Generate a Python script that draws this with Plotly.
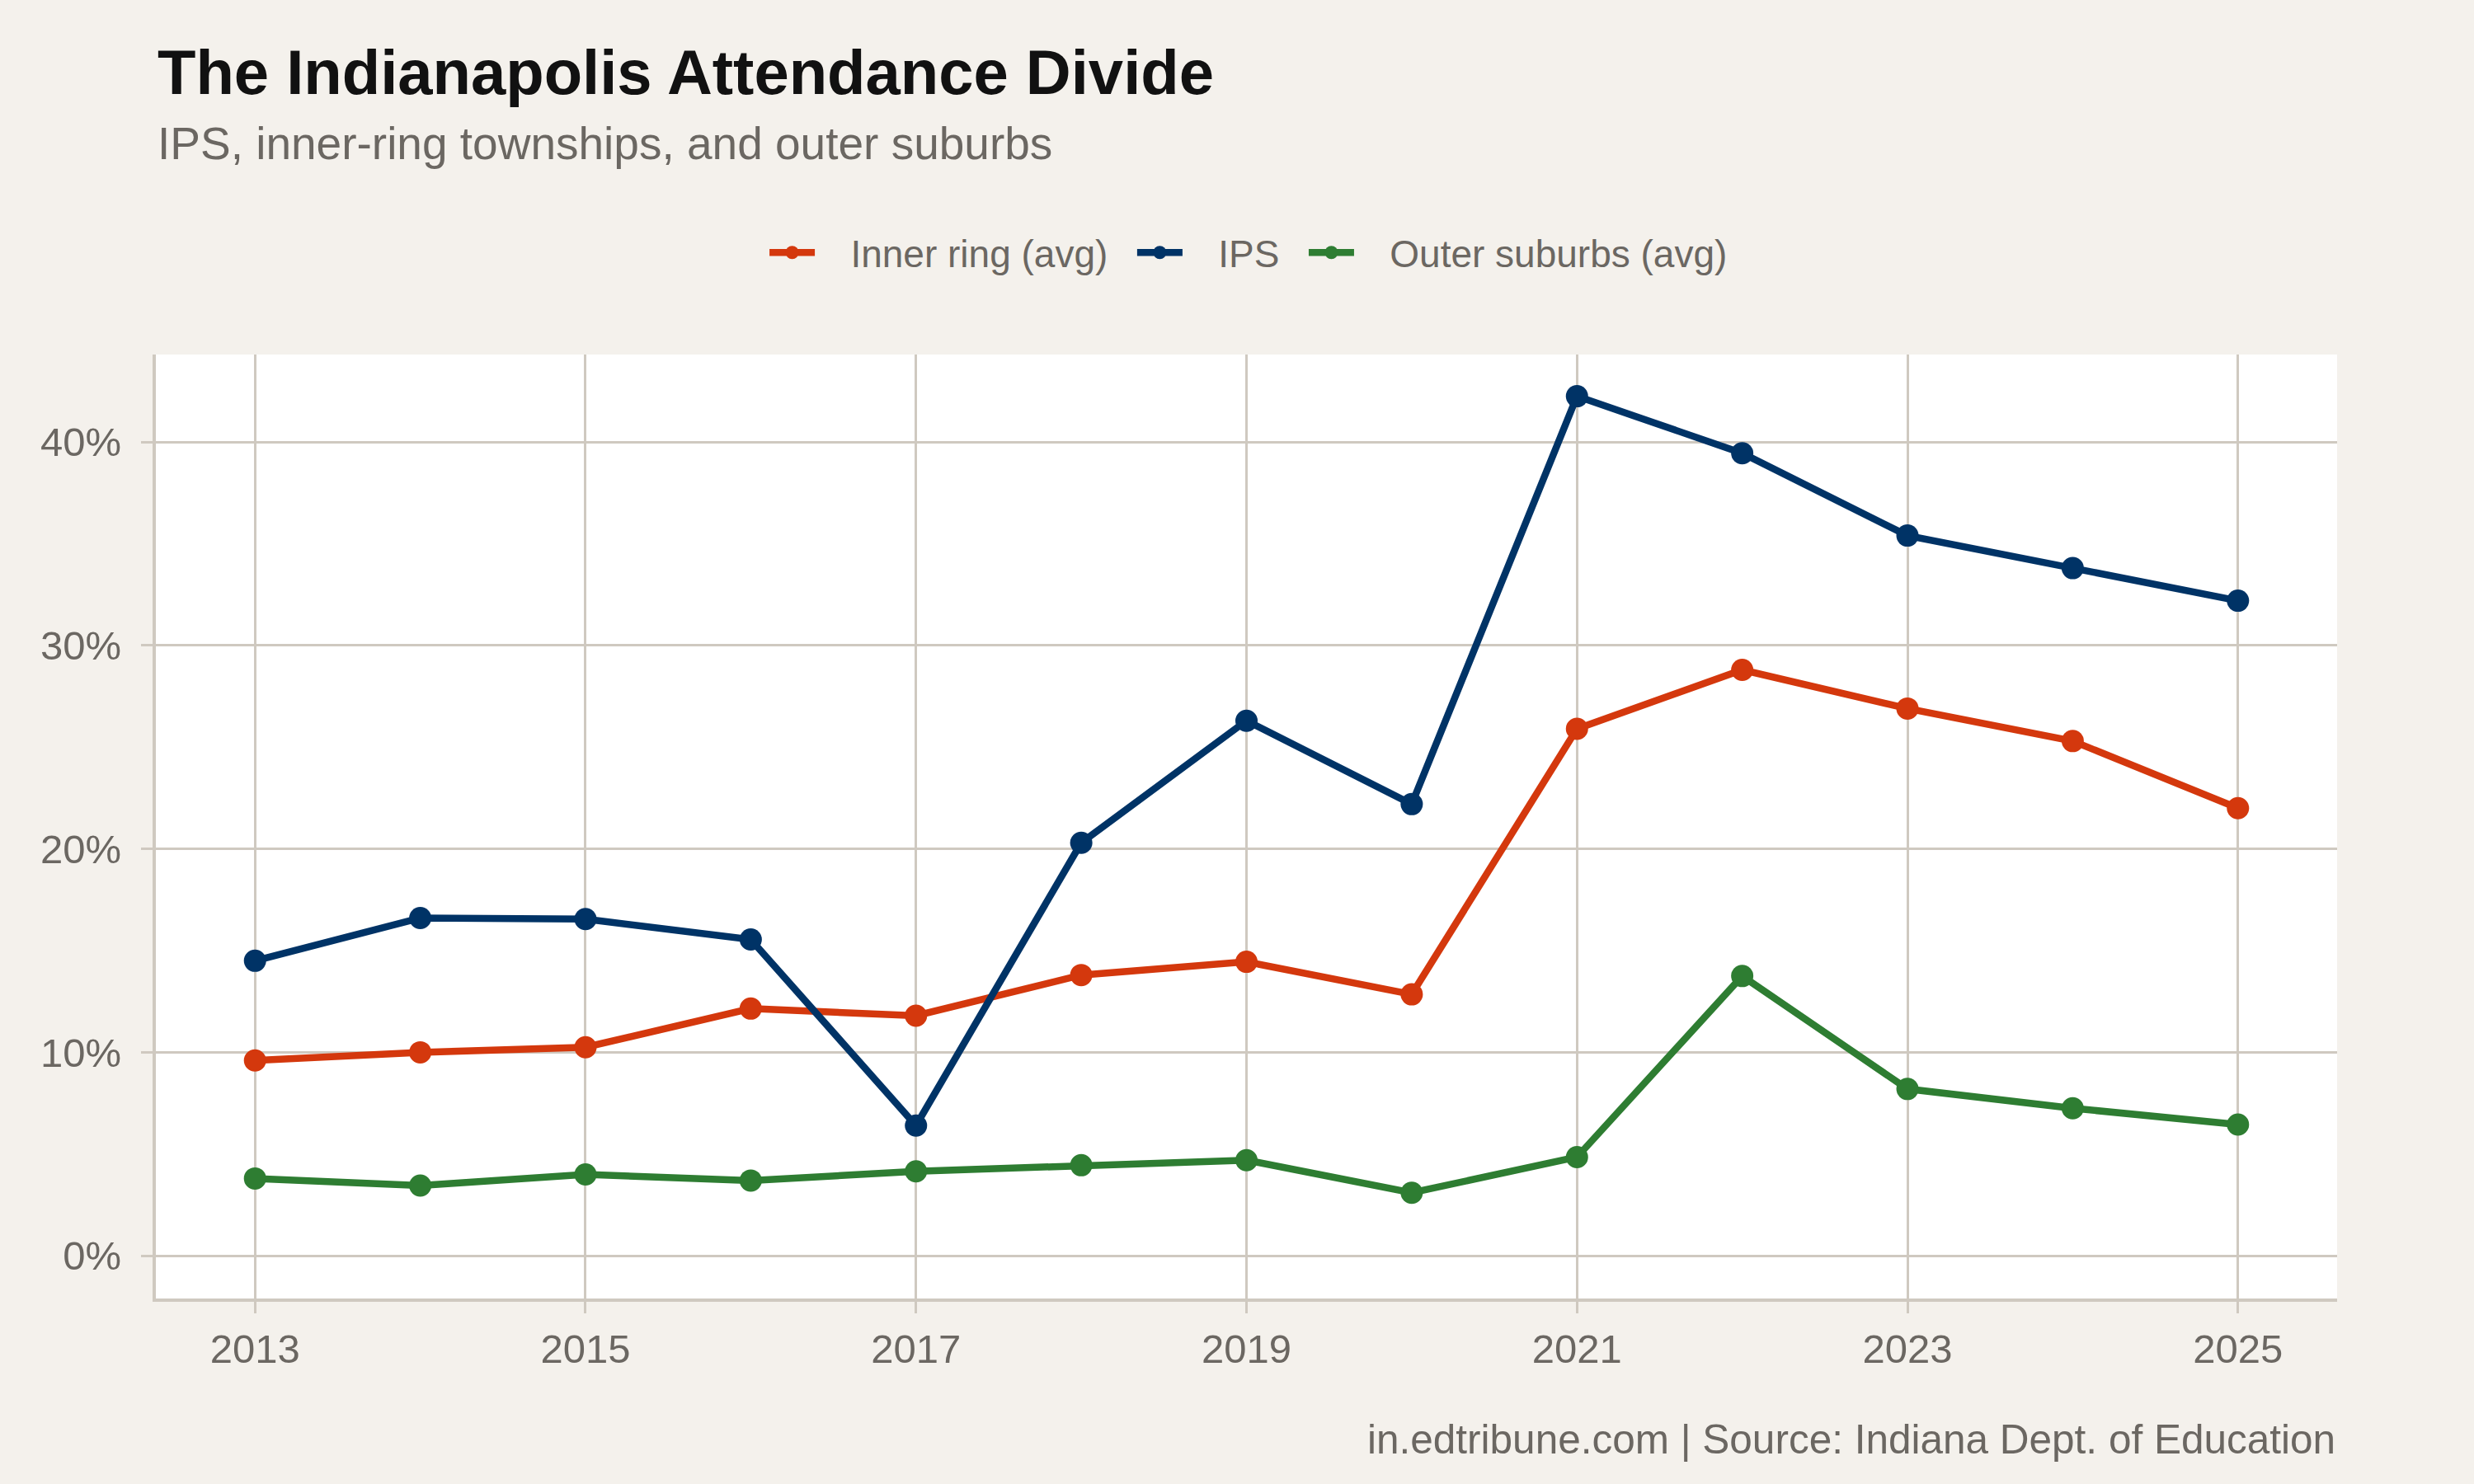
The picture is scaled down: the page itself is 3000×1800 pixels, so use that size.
import plotly.graph_objects as go

years = list(range(2013, 2026))
ips = [14.5, 16.6, 16.55, 15.55, 6.4, 20.3, 26.3, 22.2, 42.25, 39.45, 35.4, 33.8, 32.2]
inner_ring = [9.6, 10.0, 10.25, 12.15, 11.8, 13.8, 14.45, 12.85, 25.9, 28.8, 26.9, 25.3, 22.0]
outer_suburbs = [3.8, 3.45, 4.0, 3.7, 4.15, 4.45, 4.7, 3.1, 4.85, 13.75, 8.2, 7.25, 6.45]

series = [
    ("Inner ring (avg)", inner_ring, "#D4380D"),
    ("IPS", ips, "#003366"),
    ("Outer suburbs (avg)", outer_suburbs, "#2E7D32"),
]

FONT = "Liberation Sans, Arial, Helvetica, sans-serif"
GREY = "#6B6762"
GRID = "#CFC9C0"
NB = "\u00a0"

fig = go.Figure()
for name, vals, col in series:
    fig.add_trace(go.Scatter(
        x=years, y=vals, name=NB * 3 + name + NB * 2, mode="lines+markers",
        line=dict(color=col, width=8.5),
        marker=dict(color=col, size=27),
    ))

fig.update_layout(
    width=3000, height=1800,
    paper_bgcolor="#F4F1EC", plot_bgcolor="#FFFFFF",
    margin=dict(l=189, r=166, t=430, b=225),
    font=dict(family=FONT, color=GREY, size=46),
    showlegend=True,
    legend=dict(orientation="h", x=0.5057, xanchor="center", y=1.108, yanchor="middle",
                font=dict(size=46, color=GREY), bgcolor="rgba(0,0,0,0)",
                itemwidth=55, tracegroupgap=0),
    annotations=[
        dict(text="<b>The Indianapolis Attendance Divide</b>", xref="paper", yref="paper",
             x=0, y=1.2987, xanchor="left", yanchor="middle", showarrow=False,
             font=dict(size=76, color="#111111", family=FONT)),
        dict(text="IPS, inner-ring townships, and outer suburbs", xref="paper", yref="paper",
             x=0, y=1.2236, xanchor="left", yanchor="middle", showarrow=False,
             font=dict(size=55, color=GREY, family=FONT)),
        dict(text="in.edtribune.com | Source: Indiana Dept. of Education", xref="paper", yref="paper",
             x=1, y=-0.1485, xanchor="right", yanchor="middle", showarrow=False,
             font=dict(size=49.5, color=GREY, family=FONT)),
    ],
)

fig.update_xaxes(
    range=[2012.4, 2025.6], tickmode="array", tickvals=[2013, 2015, 2017, 2019, 2021, 2023, 2025],
    showgrid=True, gridcolor=GRID, gridwidth=2.5,
    showline=True, linecolor=GRID, linewidth=4,
    ticks="outside", ticklen=14, tickcolor=GRID, tickwidth=2.5,
    tickfont=dict(size=49, color=GREY), ticklabelstandoff=1,
    zeroline=False,
)
fig.update_yaxes(
    range=[-2.1, 44.3], tickmode="array", tickvals=[0, 10, 20, 30, 40],
    ticktext=["0%", "10%", "20%", "30%", "40%"],
    showgrid=True, gridcolor=GRID, gridwidth=2.5,
    showline=True, linecolor=GRID, linewidth=4,
    ticks="outside", ticklen=14, tickcolor=GRID, tickwidth=2.5,
    tickfont=dict(size=49, color=GREY), ticklabelstandoff=14,
    zeroline=False,
)

fig.write_html("out.html")
